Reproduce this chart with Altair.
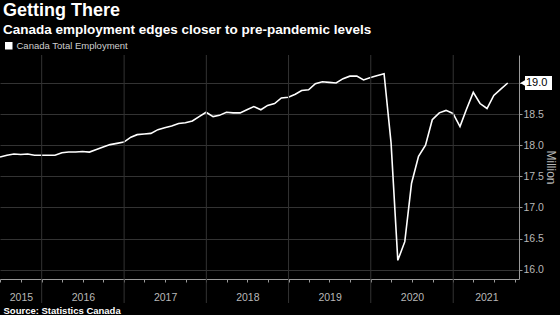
import altair as alt
import pandas as pd

# Canada total employment (million), monthly Jun 2015 - Aug 2021 (plotted at month end)
values = [
    17.81, 17.84, 17.86, 17.85, 17.86, 17.84, 17.84, 17.84, 17.84, 17.88,
    17.89, 17.89, 17.90, 17.89, 17.93, 17.97, 18.01, 18.03, 18.05, 18.13,
    18.17, 18.18, 18.19, 18.25, 18.28, 18.31, 18.35, 18.36, 18.39, 18.46,
    18.53, 18.46, 18.48, 18.53, 18.52, 18.52, 18.57, 18.62, 18.57, 18.64,
    18.67, 18.76, 18.77, 18.82, 18.88, 18.89, 18.99, 19.02, 19.01, 19.00,
    19.07, 19.11, 19.11, 19.05, 19.09, 19.12, 19.15, 18.04, 16.15, 16.45,
    17.39, 17.82, 18.00, 18.41, 18.52, 18.56, 18.51, 18.30, 18.57, 18.85,
    18.67, 18.59, 18.80, 18.90, 19.00,
]
dates = pd.date_range("2015-06-30", periods=len(values), freq="ME")
series_name = "Canada Total Employment"

year_starts = ["2016-01-01", "2017-01-01", "2018-01-01", "2019-01-01", "2020-01-01", "2021-01-01"]
quarter_ticks = [d.strftime("%Y-%m-%d") for d in pd.date_range("2015-07-01", "2021-10-01", freq="QS")]
year_label_pos = ["2015-10-01", "2016-07-02", "2017-07-02", "2018-07-02", "2019-07-02", "2020-07-02", "2021-05-28"]
y_ticks = [16.0, 16.5, 17.0, 17.5, 18.0, 18.5, 19.0]

df = pd.DataFrame({"date": dates, "value": values, "series": series_name})
last = df.tail(1).copy()
last["label"] = last["value"].map(lambda v: f"{v:.1f}")
last_label = last["label"].iloc[0]
years_df = pd.DataFrame({"d": pd.to_datetime(year_starts)})

W, H = 519, 224
FONT = "Liberation Sans"


def dt(s):
    t = pd.Timestamp(s)
    return alt.DateTime(year=t.year, month=t.month, date=t.day)


xscale = alt.Scale(domain=[dt("2015-06-30"), dt("2021-10-20")])
yscale = alt.Scale(domain=[15.85, 19.45], nice=False, zero=False)
yaxis = alt.Axis(
    orient="right", values=y_ticks, grid=True, gridColor="#333333",
    labelExpr=f"format(datum.value, '.1f') == '{last_label}' ? '' : format(datum.value, '.1f')",
    labelOverlap=False, tickCount=len(y_ticks),
    domain=True, domainColor="#9a9a9a", tickColor="#9a9a9a", tickSize=3,
    labelPadding=1, labelColor="#b8b8b8", labelFontSize=10.5, labelFont=FONT,
    title="Million", titleAngle=90, titleColor="#b8b8b8", titleFontSize=12,
    titleFont=FONT, titleFontWeight="normal", titlePadding=0,
)
Y = alt.Y("value:Q", scale=yscale, axis=yaxis)

line = alt.Chart(df).mark_line(color="#e8e8e8", strokeWidth=1.6).encode(
    x=alt.X("date:T", scale=xscale, axis=alt.Axis(
        orient="bottom", values=[dt(s) for s in year_label_pos],
        labelExpr="timeFormat(datum.value, '%Y')", ticks=False, domain=False, grid=False,
        labelColor="#b8b8b8", labelFontSize=10.5, labelFont=FONT, labelPadding=13,
        title="Source: Statistics Canada", titleAnchor="start", titleAlign="left",
        titleX=3, titleY=34, titleBaseline="alphabetic", titleColor="#ffffff",
        titleFontSize=9.5, titleFontWeight="bold", titleFont=FONT,
    )),
    y=Y,
    color=alt.Color("series:N", scale=alt.Scale(range=["#ffffff"]), legend=alt.Legend(
        title=None, orient="none", legendX=4, legendY=-14, symbolType="square",
        symbolFillColor="#ffffff", symbolStrokeColor="#ffffff", symbolSize=36,
        labelColor="#cfcfcf", labelFontSize=9.5, labelFont=FONT, labelOffset=3,
    )),
)

rules = alt.Chart(years_df).mark_rule(color="#333333", strokeWidth=1).encode(
    x=alt.X("d:T", scale=xscale, axis=alt.Axis(
        orient="bottom", values=[dt(s) for s in quarter_ticks], labels=False, grid=False,
        domain=True, domainColor="#9a9a9a", tickColor="#9a9a9a", tickSize=3, title=None,
    )),
    y=alt.value(0),
    y2=alt.value(H + 24),
)

box = alt.Chart(last).mark_rect(color="#ffffff", yOffset=-7, y2Offset=7).encode(
    x=alt.value(W + 6), x2=alt.value(W + 33), y=Y, y2="value:Q"
)
arrow = alt.Chart(last).mark_point(shape="triangle-left", filled=True, color="#ffffff", size=40, opacity=1).encode(
    x=alt.value(W + 4), y=Y
)
label = alt.Chart(last).mark_text(align="left", baseline="middle", color="#000000", fontSize=11,
                                   font=FONT, dx=0).encode(
    x=alt.value(W + 7), y=Y, text="label:N"
)

chart = alt.layer(line, rules, box, arrow, label).resolve_axis(x="independent").properties(
    width=W, height=H,
    title=alt.TitleParams(
        "Getting There", subtitle="Canada employment edges closer to pre-pandemic levels",
        anchor="start", frame="group", fontSize=18, subtitleFontSize=13.5, fontWeight="bold",
        subtitleFontWeight="bold", color="#ffffff", subtitleColor="#ffffff", font=FONT,
        subtitleFont=FONT, offset=5, dx=3, subtitlePadding=3,
    ),
    autosize=alt.AutoSizeParams(type="none"),
    padding={"left": 0, "top": 55, "right": 41, "bottom": 36},
    background="#000000",
).configure_view(stroke=None)

chart.save("out.html", embed_options={"renderer": "svg", "actions": False})
